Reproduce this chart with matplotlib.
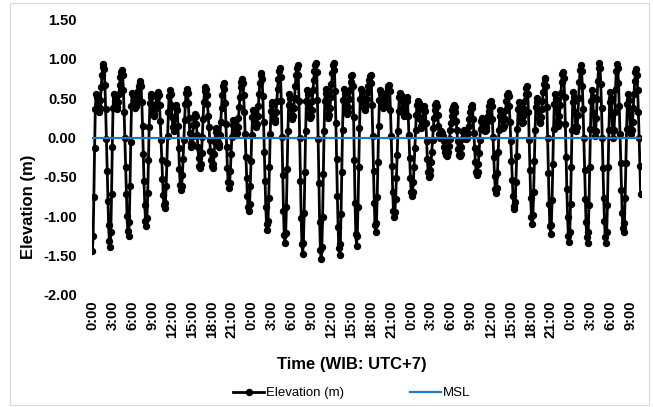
import numpy as np
import matplotlib.pyplot as plt
from matplotlib.lines import Line2D
from matplotlib.patches import Rectangle

plt.rcParams['font.family'] = ['Liberation Sans', 'DejaVu Sans']

# hourly water level (m), one line per tidal cycle
elevation = [
    -1.45, -1.26, -0.76, -0.14, 0.36, 0.55, 0.52, 0.44, 0.36, 0.33, 0.37, 0.48, 0.64, 0.79, 0.90, 0.94, 0.87, 0.67, 0.36, -0.02, -0.43, -0.81, -1.12, -1.32,
    -1.39, -1.21, -0.72, -0.12, 0.37, 0.55, 0.52, 0.46, 0.39, 0.36, 0.39, 0.45, 0.55, 0.67, 0.77, 0.84, 0.86, 0.80, 0.61, 0.33, -0.01, -0.38, -0.72, -1.00, -1.19,
    -1.25, -1.08, -0.62, -0.06, 0.40, 0.57, 0.54, 0.48, 0.41, 0.38, 0.40, 0.44, 0.51, 0.59, 0.66, 0.70, 0.72, 0.65, 0.45, 0.15, -0.21, -0.56, -0.86, -1.06,
    -1.13, -1.02, -0.71, -0.29, 0.13, 0.44, 0.55, 0.51, 0.42, 0.32, 0.28, 0.30, 0.36, 0.43, 0.51, 0.56, 0.58, 0.54, 0.41, 0.21, -0.03, -0.29, -0.53, -0.73, -0.86,
    -0.90, -0.83, -0.62, -0.32, 0.02, 0.32, 0.53, 0.60, 0.55, 0.42, 0.26, 0.13, 0.08, 0.13, 0.25, 0.37, 0.42, 0.35, 0.15, -0.13, -0.40, -0.60,
    -0.67, -0.62, -0.48, -0.27, -0.03, 0.22, 0.43, 0.57, 0.62, 0.57, 0.44, 0.25, 0.06, -0.07, -0.12, -0.08, 0.02, 0.16, 0.26, 0.30, 0.27, 0.17, 0.03, -0.12, -0.26, -0.36,
    -0.39, -0.34, -0.20, 0.01, 0.24, 0.45, 0.59, 0.64, 0.62, 0.54, 0.43, 0.28, 0.13, -0.03, -0.17, -0.29, -0.36,
    -0.39, -0.34, -0.21, -0.06, 0.07, 0.12, 0.06, -0.06, -0.12, -0.08, 0.03, 0.20, 0.37, 0.54, 0.65, 0.69, 0.62, 0.44, 0.17, -0.12, -0.39, -0.57,
    -0.64, -0.58, -0.43, -0.21, 0.01, 0.16, 0.22, 0.19, 0.13, 0.06, 0.03, 0.06, 0.13, 0.25, 0.39, 0.52, 0.64, 0.71, 0.74, 0.69, 0.54, 0.32, 0.05, -0.25, -0.52, -0.74, -0.89,
    -0.94, -0.85, -0.62, -0.30, 0.03, 0.26, 0.35, 0.32, 0.25, 0.17, 0.14, 0.17, 0.27, 0.40, 0.56, 0.69, 0.79, 0.82, 0.74, 0.53, 0.20, -0.18, -0.56, -0.89, -1.10,
    -1.18, -1.07, -0.77, -0.37, 0.04, 0.34, 0.45, 0.41, 0.33, 0.24, 0.20, 0.23, 0.33, 0.46, 0.62, 0.75, 0.85, 0.88, 0.77, 0.46, 0.01, -0.48, -0.93, -1.24,
    -1.35, -1.22, -0.88, -0.40, 0.08, 0.42, 0.55, 0.50, 0.40, 0.29, 0.24, 0.27, 0.37, 0.50, 0.66, 0.79, 0.89, 0.92, 0.80, 0.47, -0.01, -0.55, -1.03, -1.36,
    -1.48, -1.34, -0.96, -0.44, 0.08, 0.46, 0.60, 0.55, 0.43, 0.30, 0.25, 0.28, 0.35, 0.47, 0.60, 0.73, 0.85, 0.92, 0.95, 0.83, 0.48, -0.02, -0.58, -1.08, -1.43,
    -1.55, -1.40, -1.01, -0.46, 0.08, 0.47, 0.62, 0.57, 0.44, 0.30, 0.25, 0.29, 0.38, 0.52, 0.68, 0.82, 0.92, 0.95, 0.86, 0.59, 0.19, -0.28, -0.74, -1.14, -1.41,
    -1.50, -1.36, -0.97, -0.44, 0.09, 0.48, 0.62, 0.57, 0.46, 0.35, 0.30, 0.33, 0.39, 0.49, 0.61, 0.71, 0.78, 0.80, 0.65, 0.26, -0.29, -0.84, -1.23,
    -1.38, -1.25, -0.88, -0.38, 0.12, 0.49, 0.62, 0.59, 0.53, 0.44, 0.38, 0.35, 0.37, 0.42, 0.49, 0.58, 0.66, 0.73, 0.78, 0.80, 0.70, 0.42, 0.02, -0.43, -0.83, -1.11,
    -1.21, -1.09, -0.76, -0.31, 0.15, 0.48, 0.60, 0.57, 0.49, 0.41, 0.38, 0.39, 0.42, 0.47, 0.53, 0.58, 0.63, 0.66, 0.67, 0.59, 0.35, 0.02, -0.36, -0.69, -0.93,
    -1.01, -0.95, -0.78, -0.52, -0.22, 0.08, 0.34, 0.51, 0.57, 0.54, 0.47, 0.38, 0.31, 0.28, 0.32, 0.40, 0.48, 0.52, 0.46, 0.28, 0.03, -0.26, -0.51, -0.69,
    -0.75, -0.70, -0.57, -0.37, -0.14, 0.09, 0.29, 0.42, 0.47, 0.44, 0.35, 0.24, 0.15, 0.12, 0.16, 0.26, 0.36, 0.40, 0.34, 0.18, -0.05, -0.28, -0.44,
    -0.50, -0.48, -0.41, -0.31, -0.18, -0.03, 0.12, 0.25, 0.35, 0.42, 0.44, 0.40, 0.29, 0.15, 0.04, 0.00, 0.04, 0.08, 0.06, 0.02, -0.04, -0.12, -0.18, -0.22,
    -0.24, -0.22, -0.18, -0.11, -0.02, 0.09, 0.19, 0.28, 0.35, 0.39, 0.41, 0.39, 0.32, 0.21, 0.09, -0.04, -0.15, -0.22,
    -0.24, -0.21, -0.12, -0.02, 0.07, 0.10, 0.08, 0.04, 0.00, -0.02, 0.00, 0.06, 0.15, 0.24, 0.33, 0.39, 0.41, 0.37, 0.24, 0.06, -0.13, -0.31, -0.44,
    -0.48, -0.44, -0.34, -0.20, -0.03, 0.11, 0.21, 0.25, 0.23, 0.17, 0.10, 0.08, 0.09, 0.14, 0.20, 0.27, 0.34, 0.40, 0.45, 0.46, 0.40, 0.24, 0.01, -0.25, -0.49, -0.65,
    -0.71, -0.64, -0.45, -0.18, 0.09, 0.28, 0.35, 0.32, 0.24, 0.15, 0.12, 0.15, 0.23, 0.35, 0.46, 0.54, 0.57, 0.53, 0.40, 0.20, -0.04, -0.30, -0.54, -0.74, -0.87,
    -0.91, -0.82, -0.57, -0.23, 0.11, 0.36, 0.45, 0.41, 0.32, 0.22, 0.18, 0.20, 0.27, 0.36, 0.47, 0.56, 0.63, 0.65, 0.56, 0.32, -0.03, -0.42, -0.77, -1.01,
    -1.10, -0.99, -0.70, -0.30, 0.10, 0.39, 0.50, 0.45, 0.34, 0.23, 0.18, 0.20, 0.26, 0.36, 0.47, 0.58, 0.68, 0.74, 0.76, 0.66, 0.39, -0.01, -0.45, -0.85, -1.13,
    -1.23, -1.11, -0.79, -0.34, 0.11, 0.43, 0.55, 0.49, 0.35, 0.21, 0.15, 0.18, 0.28, 0.42, 0.57, 0.71, 0.81, 0.84, 0.76, 0.52, 0.17, -0.25, -0.66, -1.01, -1.25,
    -1.33, -1.20, -0.85, -0.38, 0.10, 0.45, 0.58, 0.51, 0.33, 0.15, 0.08, 0.14, 0.29, 0.50, 0.71, 0.86, 0.92, 0.85, 0.66, 0.36, -0.01, -0.41, -0.78, -1.08, -1.27,
    -1.34, -1.21, -0.86, -0.37, 0.11, 0.47, 0.60, 0.52, 0.31, 0.10, 0.02, 0.08, 0.25, 0.49, 0.72, 0.89, 0.95, 0.88, 0.68, 0.38, 0.00, -0.39, -0.77, -1.07, -1.27,
    -1.34, -1.21, -0.86, -0.38, 0.10, 0.45, 0.58, 0.50, 0.29, 0.08, 0.00, 0.09, 0.32, 0.62, 0.85, 0.94, 0.88, 0.69, 0.40, 0.05, -0.32, -0.67, -0.96, -1.15,
    -1.21, -1.09, -0.77, -0.33, 0.11, 0.43, 0.55, 0.48, 0.30, 0.12, 0.05, 0.09, 0.20, 0.37, 0.55, 0.72, 0.83, 0.87, 0.80, 0.60, 0.32, 0.00, -0.36, -0.72,
]
msl = [0.0] * len(elevation)
start_hour = 0
label_every = 27   # excel category axis shows every 27th hour
y_ticks = [-2.0, -1.5, -1.0, -0.5, 0.0, 0.5, 1.0, 1.5]

hours = np.arange(len(elevation))
time_labels = ['%d:00' % ((start_hour + h) % 24) for h in hours]

W, H = 653, 407
fig = plt.figure(figsize=(W / 100, H / 100), dpi=100)
fig.patches.append(Rectangle((10 / W, 2 / H), 639 / W, 402 / H, transform=fig.transFigure,
                             fill=False, edgecolor='#d9d9d9', linewidth=0.8))

ax = fig.add_axes([92 / W, 1 - 294.5 / H, 549 / W, 274.75 / H])
ax.plot(hours, elevation, color='black', linewidth=2.0, marker='o', markersize=4.3,
        label='Elevation (m)', zorder=2)
ax.plot(hours, msl, color='#1f78c8', linewidth=1.6, label='MSL', zorder=3)

ax.set_xlim(-0.5, len(elevation) - 0.5)
ax.set_ylim(-2.0, 1.5)
ax.set_yticks(y_ticks)
ax.set_yticklabels(['%.2f' % v for v in y_ticks], fontsize=10.5, fontweight='bold')
ax.set_xticks(hours[::label_every])
ax.set_xticklabels(time_labels[::label_every], rotation=90, fontsize=10.5, fontweight='bold')
ax.tick_params(axis='y', length=0, pad=11)
ax.tick_params(axis='x', length=0, pad=4.5)
for s in ax.spines.values():
    s.set_visible(False)

fig.text(352 / W, 1 - 365 / H, 'Time (WIB: UTC+7)', ha='center', va='center',
         fontsize=12, fontweight='bold')
fig.text(28 / W, 1 - 207 / H, 'Elevation (m)', ha='center', va='center', rotation=90,
         fontsize=12, fontweight='bold')

handles = [Line2D([], [], color='black', linewidth=2.0, marker='o', markersize=4.3),
           Line2D([], [], color='#1f78c8', linewidth=1.6)]
fig.legend(handles, ['Elevation (m)', 'MSL'], loc='center', bbox_to_anchor=(352 / W, 1 - 393 / H),
           ncol=2, frameon=False, fontsize=9.5, handlelength=2.3, handletextpad=0.2,
           columnspacing=5.0, numpoints=1)

fig.savefig('out.png', dpi=100)
